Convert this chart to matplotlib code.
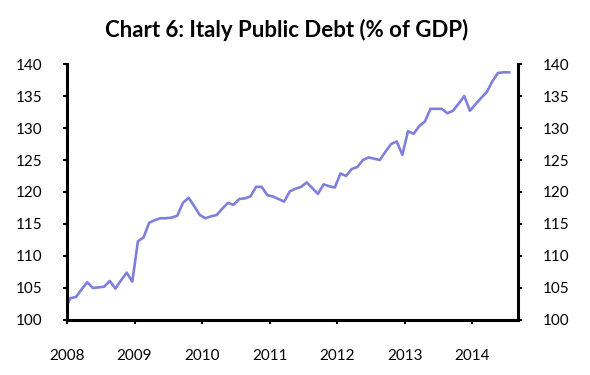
import numpy as np
import matplotlib
matplotlib.use("Agg")
import matplotlib.pyplot as plt

# 意大利公共债务占GDP比例，按月读数
debt = [101.6, 103.4, 103.6, 104.8, 105.9, 105.0, 105.1, 105.2, 106.1, 104.9,
        106.2, 107.4, 106.0, 112.3, 112.9, 115.2, 115.6, 115.9, 115.9, 116.0,
        116.3, 118.3, 119.1, 117.8, 116.4, 115.9, 116.2, 116.4, 117.4, 118.3,
        118.0, 118.9, 119.0, 119.3, 120.8, 120.8, 119.5, 119.3, 118.9, 118.5,
        120.1, 120.5, 120.8, 121.5, 120.6, 119.7, 121.2, 120.9, 120.7, 122.9,
        122.5, 123.6, 123.9, 125.0, 125.4, 125.2, 125.0, 126.3, 127.5, 127.9,
        125.8, 129.5, 129.1, 130.3, 131.0, 133.0, 133.0, 133.0, 132.3, 132.7,
        133.8, 135.0, 132.7, 133.7, 134.7, 135.6, 137.3, 138.6, 138.7, 138.7]
months = np.arange(len(debt))
dates = 2008 + (months - 0.4) / 12

years = [2008, 2009, 2010, 2011, 2012, 2013, 2014]
yticks = [100, 105, 110, 115, 120, 125, 130, 135, 140]

plt.rcParams['font.family'] = ['Lato', 'DejaVu Sans']

fig = plt.figure(figsize=(5.9, 3.75), dpi=100)
ax = fig.add_axes([0.1136, 0.1467, 0.7644, 0.6826])

ax.plot(dates, debt, color='#7F80DC', linewidth=1.9)

ax.set_xlim(2008, 2014.68)
ax.set_ylim(100, 140)
ax.set_xticks(years)
ax.set_xticklabels([str(y) for y in years])
ax.set_yticks(yticks)

# 右侧也显示刻度
ax.tick_params(axis='y', which='both', left=True, right=True,
               labelleft=True, labelright=True, direction='out',
               length=3, width=1.5, labelsize=11, pad=15)
ax.tick_params(axis='x', direction='out', length=3, width=1.5,
               labelsize=11, pad=18)

for side in ['left', 'right', 'bottom']:
    ax.spines[side].set_linewidth(2.2)
ax.spines['top'].set_visible(False)

fig.text(287 / 590, 1 - 30 / 375, 'Chart 6: Italy Public Debt (% of GDP)',
         ha='center', va='center', fontsize=16, fontweight='bold')

fig.savefig('out.png', dpi=100)
